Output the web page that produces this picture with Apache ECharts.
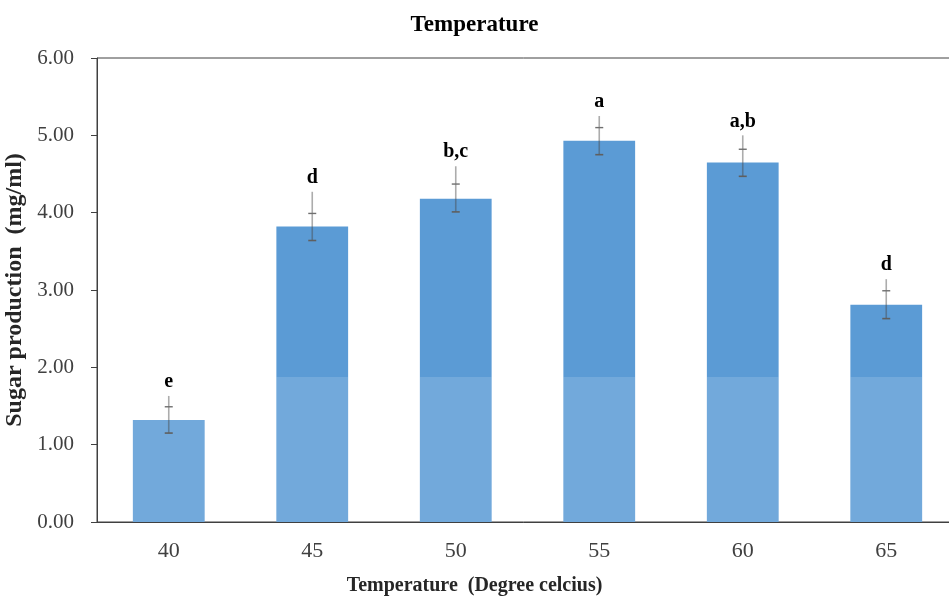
<!DOCTYPE html>
<html><head><meta charset="utf-8">
<script src="https://cdn.jsdelivr.net/npm/echarts@6/dist/echarts.min.js"></script>
<style>html,body{margin:0;padding:0;background:#fff}#c{width:949px;height:597px}</style>
</head><body><div id="c"></div>
<script>
var categories = ['40', '45', '50', '55', '60', '65'];
var sugar = [1.32, 3.82, 4.18, 4.93, 4.65, 2.81];
var errLow = [1.15, 3.64, 4.01, 4.75, 4.47, 2.63];
var errHigh = [1.49, 3.99, 4.37, 5.10, 4.82, 2.99];
var whiskerTop = [1.63, 4.27, 4.60, 5.25, 5.00, 3.14];
var letters = ['e', 'd', 'b,c', 'a', 'a,b', 'd'];
var yTicks = [0, 1, 2, 3, 4, 5, 6];
var fadeLevel = 1.875;

var chart = echarts.init(document.getElementById('c'));
var serif = '"Liberation Serif", "Times New Roman", serif';
var errData = categories.map(function (c, i) { return [i, errLow[i], errHigh[i], whiskerTop[i], sugar[i]]; });

chart.setOption({
  backgroundColor: '#fff',
  animation: false,
  title: [
    { text: 'Temperature', left: 'center', top: 9,
      textStyle: { fontFamily: serif, fontWeight: 'bold', fontSize: 23, color: '#000' } },
    { text: 'Temperature  (Degree celcius)', left: 'center', top: 571,
      textStyle: { fontFamily: serif, fontWeight: 'bold', fontSize: 20, color: '#262626' } }
  ],
  grid: { left: 97, top: 58, height: 464, width: 861, outerBoundsMode: 'none', containLabel: false,
    show: true, borderColor: '#404040', borderWidth: 1, backgroundColor: 'transparent' },
  xAxis: {
    type: 'category', data: categories,
    axisLine: { lineStyle: { color: '#404040', width: 1 } },
    axisTick: { alignWithLabel: true, length: 6, lineStyle: { color: '#404040' } },
    axisLabel: { fontFamily: serif, fontSize: 22, color: '#404040', margin: 18 }
  },
  yAxis: {
    type: 'value', min: 0, max: 6, interval: 1,
    name: 'Sugar production  (mg/ml)', nameLocation: 'middle', nameGap: 63,
    nameTextStyle: { fontFamily: serif, fontWeight: 'bold', fontSize: 24, color: '#262626' },
    axisLine: { show: true, lineStyle: { color: '#404040', width: 1 } },
    axisTick: { show: true, length: 6, lineStyle: { color: '#404040' } },
    splitLine: { show: false },
    axisLabel: { fontFamily: serif, fontSize: 21, color: '#404040', margin: 23,
      formatter: function (v) { return yTicks.indexOf(v) >= 0 ? v.toFixed(2) : ''; } }
  },
  series: [
    {
      type: 'bar', data: sugar, barWidth: '50%',
      itemStyle: { color: '#5b9bd5' }
    },
    {
      type: 'custom', data: errData, z: 5,
      renderItem: function (params, api) {
        var x = api.value(0);
        var lo = api.coord([x, api.value(1)]);
        var hi = api.coord([x, api.value(2)]);
        var tp = api.coord([x, api.value(3)]);
        var base = api.coord([x, 0]);
        var fadeTop = api.coord([x, Math.min(api.value(4), fadeLevel)]);
        var bw = api.size([1, 0])[0] * 0.5;
        var cw = 4;
        return {
          type: 'group',
          children: [
            { type: 'rect', shape: { x: base[0] - bw / 2, y: fadeTop[1], width: bw, height: base[1] - fadeTop[1] },
              style: { fill: 'rgba(255,255,255,0.14)' } },
            { type: 'line', shape: { x1: lo[0], y1: lo[1], x2: tp[0], y2: tp[1] },
              style: { stroke: 'rgba(70,70,70,0.45)', lineWidth: 1.6 } },
            { type: 'line', shape: { x1: lo[0] - cw, y1: lo[1], x2: lo[0] + cw, y2: lo[1] },
              style: { stroke: '#5f5f5f', lineWidth: 1.6 } },
            { type: 'line', shape: { x1: hi[0] - cw, y1: hi[1], x2: hi[0] + cw, y2: hi[1] },
              style: { stroke: '#6f6f6f', lineWidth: 1.4 } },
            { type: 'text', x: tp[0], y: tp[1] - 14,
              style: { text: letters[params.dataIndex], align: 'center', verticalAlign: 'middle',
                fontFamily: serif, fontWeight: 'bold', fontSize: 20, fill: '#000' } }
          ]
        };
      }
    }
  ]
});
</script></body></html>
